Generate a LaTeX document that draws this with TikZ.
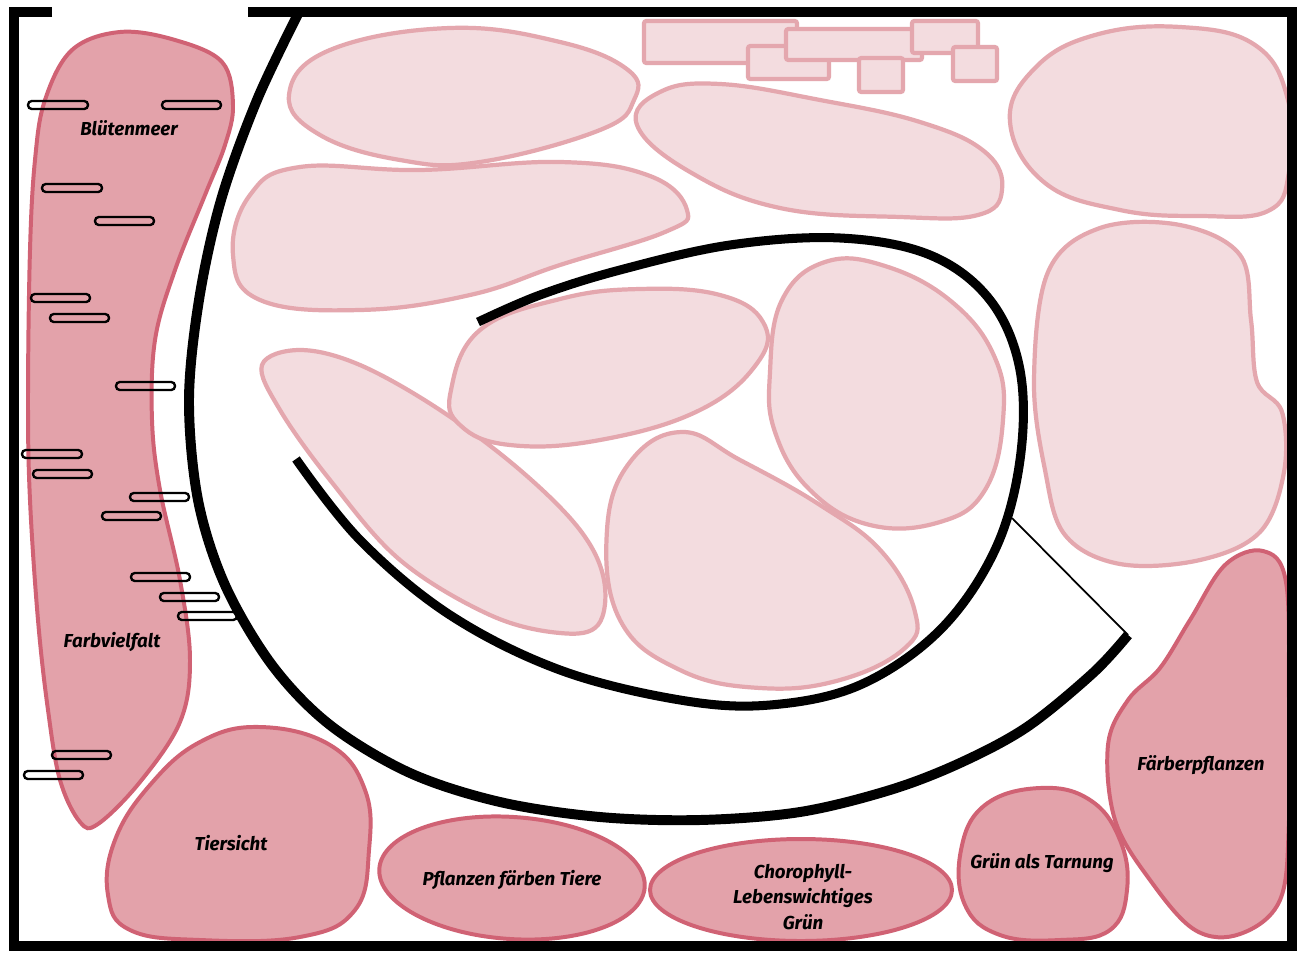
\documentclass[tikz,border=0pt]{standalone}
\usepackage{fontspec}
\setmainfont{Fira Sans}
\usepackage{tikz}
\usetikzlibrary{calc}

\definecolor{bedlight}{HTML}{F3DCDF}
\definecolor{bedlightline}{HTML}{E4A7AE}
\definecolor{beddark}{HTML}{E3A2AA}
\definecolor{beddarkline}{HTML}{D06274}

\tikzset{
	lightbed/.style={fill=bedlight, draw=bedlightline, line width=3.6pt},
	darkbed/.style={fill=beddark, draw=beddarkline, line width=3.4pt},
	bench/.style={draw=black, line width=2pt, rounded corners=3.2pt},
	wall/.style={line width=8.2pt, line cap=butt},
	bedlabel/.style={font=\fontsize{16}{21.5}\selectfont\bfseries\itshape, align=center, inner sep=0pt}
}

% bench: left end x, right end x, centre y
\def\bank(#1:#2:#3){\draw[bench] (#1,#3-4) rectangle (#2,#3+4);}

\begin{document}
\begin{tikzpicture}[x=0.3mm,y=-0.3mm]
			%%%%% START %%%%%
			\useasboundingbox (0,0) rectangle (1297,954);
			\fill[white] (0,0) rectangle (1297,954);

			% light beds
			\draw[lightbed] plot[smooth cycle, tension=0.7] coordinates {(289,95) (330,50) (450,28) (560,42) (628,70) (634,100) (600,130) (480,162) (400,160) (320,135)};
			\draw[lightbed] plot[smooth cycle, tension=0.7] coordinates {(233,255) (250,195) (300,167) (420,170) (560,162) (650,176) (687,210) (665,232) (560,265) (470,295) (360,310) (260,300)};
			\draw[lightbed] plot[smooth cycle, tension=0.7] coordinates {(637,125) (660,92) (720,84) (820,100) (920,122) (985,152) (1002,190) (978,215) (900,217) (780,208) (690,172)};
			\draw[lightbed] plot[smooth cycle, tension=0.7] coordinates {(1010,122) (1035,68) (1095,35) (1180,27) (1255,45) (1288,100) (1289,172) (1268,211) (1200,216) (1120,210) (1045,183)};
			\draw[lightbed] plot[smooth cycle, tension=0.6] coordinates {(1048,272) (1100,228) (1180,225) (1240,255) (1251,320) (1257,382) (1282,412) (1284,472) (1260,532) (1200,560) (1120,564) (1065,535) (1045,470) (1034,380)};
			\draw[lightbed] plot[smooth cycle, tension=0.6] coordinates {(262,365) (300,350) (360,365) (440,410) (520,470) (580,530) (604,580) (598,625) (560,633) (490,615) (400,560) (330,480) (280,410)};
			\draw[lightbed] plot[smooth cycle, tension=0.7] coordinates {(451,390) (480,330) (560,299) (640,289) (720,295) (763,322) (758,362) (700,410) (600,440) (510,445) (460,425)};
			\draw[lightbed] plot[smooth cycle, tension=0.7] coordinates {(770,372) (782,300) (825,262) (885,266) (952,302) (995,358) (1003,420) (985,490) (940,522) (870,525) (810,490) (775,432)};
			\draw[lightbed] plot[smooth cycle, tension=0.7] coordinates {(607,530) (630,462) (682,432) (740,460) (820,505) (882,552) (915,612) (905,648) (840,680) (760,688) (680,670) (620,620)};

			% light boxes, top
			\draw[lightbed, rounded corners=2pt] (644,21) rectangle (797,63);
			\draw[lightbed, rounded corners=2pt] (748,46) rectangle (829,79);
			\draw[lightbed, rounded corners=2pt] (786,29) rectangle (922,60);
			\draw[lightbed, rounded corners=2pt] (859,58) rectangle (903,92);
			\draw[lightbed, rounded corners=2pt] (912,21) rectangle (978,53);
			\draw[lightbed, rounded corners=2pt] (953,47) rectangle (997,81);

			% dark beds
			\draw[darkbed] plot[smooth cycle, tension=0.6] coordinates {(120,32) (175,40) (222,62) (233,105) (225,145) (205,195) (175,270) (155,340) (152,420) (160,490) (180,580) (190,660) (180,722) (140,782) (98,824) (80,822) (60,780) (48,710) (38,620) (30,500) (28,400) (30,250) (35,160) (45,100) (72,50)};
			\draw[darkbed] plot[smooth cycle, tension=0.7] coordinates {(260,727) (330,745) (365,790) (369,850) (355,910) (300,937) (200,940) (130,930) (108,895) (115,840) (150,785) (200,742)};
			\draw[darkbed, rotate around={-4:(512,878)}] (512,878) ellipse (133 and 61);
			\draw[darkbed] (801,890) ellipse (151 and 51);
			\draw[darkbed] plot[smooth cycle, tension=0.7] coordinates {(1040,788) (1090,800) (1120,840) (1127,890) (1110,930) (1060,940) (1000,935) (965,905) (961,850) (985,805)};
			\draw[darkbed] plot[smooth cycle, tension=0.6] coordinates {(1263,551) (1286,582) (1289,700) (1289,820) (1280,900) (1240,934) (1195,930) (1150,880) (1115,820) (1108,745) (1128,700) (1160,668) (1190,620) (1225,565)};

			% benches
			\bank(28:88:105)
			\bank(162:221:105)
			\bank(42:102:188)
			\bank(95:154:221)
			\bank(31:90:298)
			\bank(50:109:318)
			\bank(116:175:386)
			\bank(22:82:454)
			\bank(33:92:474)
			\bank(130:189:497)
			\bank(102:161:516)
			\bank(131:190:577)
			\bank(160:219:597)
			\bank(178:237:616)
			\bank(52:111:755)
			\bank(24:83:775)

			% paths
			\draw[line width=8.5pt] plot[smooth, tension=0.55] coordinates {(299,12) (257,100) (221,200) (199,300) (189,400) (198,500) (225,585) (272,665) (330,725) (410,773) (500,802) (600,817) (700,820) (800,812) (890,790) (960,763) (1027,727) (1093,673) (1128,635)};
			\draw[line width=1.5pt] (1128,635) -- (1012,518);
			\draw[line width=7.7pt] plot[smooth, tension=0.6] coordinates {(296,459) (360,540) (450,615) (560,670) (680,700) (770,705) (860,685) (940,630) (995,550) (1020,460) (1020,370) (990,300) (930,255) (840,238) (730,245) (620,270) (540,295) (478,322)};

			% frame
			\draw[wall] (52,12) -- (14,12) -- (14,946) -- (1292,946) -- (1292,12) -- (248,12);

			% labels
			\node[bedlabel] (bluete) at (129,128) {Blütenmeer};
			\node[bedlabel] (farbe) at (112,642) {Farbvielfalt};
			\node[bedlabel] (tier) at (231,843) {Tiersicht};
			\node[bedlabel] (faerben) at (512,880) {Pflanzen färben Tiere};
			\node[bedlabel] (chloro) at (803,897) {Chorophyll-\\Lebenswichtiges\\Grün};
			\node[bedlabel] (tarn) at (1042,863) {Grün als Tarnung};
			\node[bedlabel] (faerber) at (1201,765) {Färberpflanzen};
			%%%%% END %%%%%
\end{tikzpicture}
\end{document}
